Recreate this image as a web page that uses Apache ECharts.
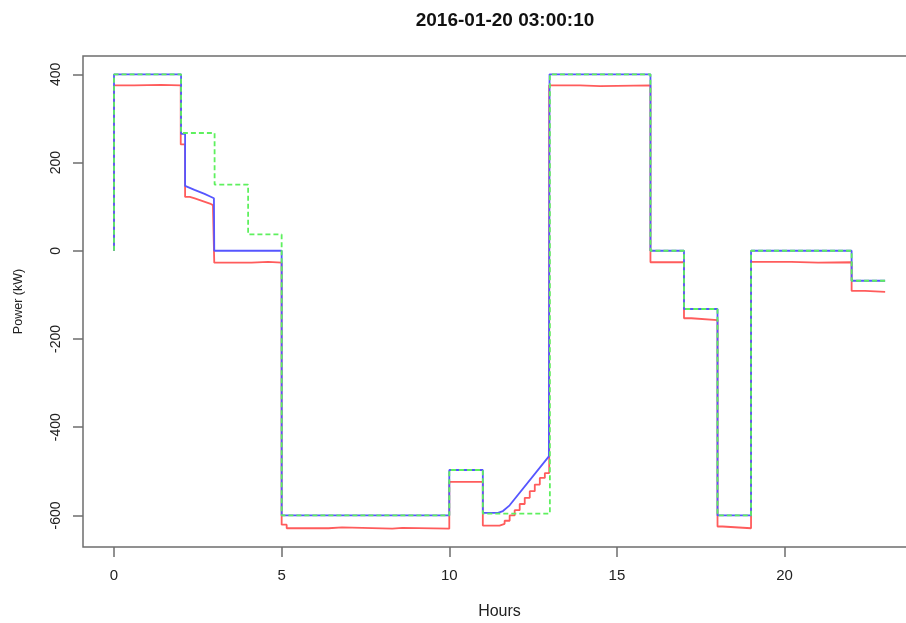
<!DOCTYPE html>
<html>
<head>
<meta charset="utf-8">
<script src="https://cdn.jsdelivr.net/npm/echarts@6/dist/echarts.min.js"></script>
<style>
  html, body { margin: 0; padding: 0; background: #fff; }
  #chart { width: 906px; height: 623px; }
</style>
</head>
<body>
<div id="chart"></div>
<script>
// ---- Data (hours, kW) ----
const titleText = '2016-01-20 03:00:10';
const xTicks = [0, 5, 10, 15, 20];
const yTicks = [-600, -400, -200, 0, 200, 400];

// measured power (red)
const redSeries = [
  [0,0],[0,375],[0.6,375],[0.6,376],[1.4,376],[1.4,375],[1.99,375],[1.99,241],[2.12,241],[2.12,122],
  [2.26,122],[2.26,118.6],[2.41,118.6],[2.41,115],[2.56,115],[2.56,111],[2.71,111],[2.71,107],
  [2.86,107],[2.86,103.5],[2.95,103.5],[2.95,100],[2.99,100],[2.99,-27],[4.1,-27],[4.1,-25],
  [4.6,-25],[4.6,-27],[5,-27],[5,-621],[5.15,-621],[5.15,-629],[6.4,-629],[6.4,-627],[6.8,-627],
  [6.8,-630],[8.3,-630],[8.3,-628],[8.6,-628],[8.6,-630],[10,-630],[10,-524],[11,-524],[11,-623],
  [11.5,-623],[11.5,-619],[11.65,-619],[11.65,-612],[11.8,-612],[11.8,-600],[11.95,-600],[11.95,-588],
  [12.1,-588],[12.1,-574],[12.25,-574],[12.25,-560],[12.4,-560],[12.4,-545],[12.55,-545],[12.55,-530],
  [12.7,-530],[12.7,-515],[12.85,-515],[12.85,-504],[12.98,-504],[12.98,375],[13.9,375],[13.9,373],
  [14.5,373],[14.5,375],[16,375],[16,-26],[17,-26],[17,-153],[17.22,-153],[17.22,-157],[18,-157],
  [18,-625],[18.15,-625],[18.15,-629],[19,-629],[19,-25],[20.2,-25],[20.2,-27],[21,-27],[21,-26],
  [22,-26],[22,-91],[22.4,-91],[22.4,-93],[23,-93]
];

// actual power (blue)
const blueSeries = [
  [0,0],[0,400],[2,400],[2,265],[2.12,265],[2.12,147],[2.4,138],[2.7,129],[2.9,122],[2.98,119],
  [2.99,0],[5,0],[5,-600],[10,-600],[10,-497],[11,-497],[11,-594],[11.45,-594],[11.6,-590],
  [11.8,-577],[12.97,-466],[12.99,400],[16,400],[16,0],[17,0],[17,-132],[18,-132],[18,-600],
  [19,-600],[19,0],[22,0],[22,-68],[23,-68]
];

// setpoint (green, dashed)
const greenSeries = [
  [0,0],[0,400],[2,400],[2,267],[3,267],[3,150],[4,150],[4,37],[5,37],[5,-600],[10,-600],
  [10,-497],[11,-497],[11,-596],[13,-596],[13,400],[16,400],[16,0],[17,0],[17,-132],[18,-132],
  [18,-600],[19,-600],[19,0],[22,0],[22,-68],[23,-68]
];

const FONT = 'Liberation Sans, Arial, Helvetica, sans-serif';
const chart = echarts.init(document.getElementById('chart'), null, { renderer: 'canvas' });

chart.setOption({
  animation: false,
  backgroundColor: '#ffffff',
  title: {
    text: titleText,
    left: 500,
    textAlign: 'center',
    top: 6,
    textStyle: { fontFamily: FONT, fontSize: 19, fontWeight: 'bold', color: '#111' }
  },
  grid: {
    left: 83, top: 56, right: -10, bottom: 76,
    show: true, borderColor: '#6e6e6e', borderWidth: 1.5,
    containLabel: false, outerBoundsMode: 'none'
  },
  xAxis: {
    type: 'value',
    min: -0.925, max: 23.92,
    name: 'Hours',
    nameLocation: 'middle',
    nameGap: 57,
    nameTextStyle: { fontFamily: FONT, fontSize: 16, color: '#222' },
    axisLine: { show: false, onZero: false },
    splitLine: { show: false },
    axisTick: { show: true, inside: false, length: 10, customValues: xTicks, lineStyle: { color: '#6e6e6e', width: 1.5 } },
    axisLabel: { customValues: xTicks, margin: 21, fontFamily: FONT, fontSize: 15, color: '#222' }
  },
  yAxis: {
    type: 'value',
    min: -671.5, max: 441.5,
    name: 'Power (kW)',
    nameLocation: 'middle',
    nameRotate: 90,
    nameGap: 58,
    nameTextStyle: { fontFamily: FONT, fontSize: 12.5, color: '#222' },
    axisLine: { show: false, onZero: false },
    splitLine: { show: false },
    axisTick: { show: true, inside: false, length: 10, customValues: yTicks, lineStyle: { color: '#6e6e6e', width: 1.5 } },
    axisLabel: { customValues: yTicks, rotate: 90, margin: 20, fontFamily: FONT, fontSize: 14, color: '#222' }
  },
  series: [
    { type: 'line', name: 'measured', data: redSeries, showSymbol: false, symbol: 'none',
      lineStyle: { color: '#ff5c5c', width: 1.8 }, z: 2 },
    { type: 'line', name: 'actual', data: blueSeries, showSymbol: false, symbol: 'none',
      lineStyle: { color: '#5656ff', width: 1.8 }, z: 3 },
    { type: 'line', name: 'setpoint', data: greenSeries, showSymbol: false, symbol: 'none',
      lineStyle: { color: '#5ef05e', width: 1.8, type: [5, 3] }, z: 4 }
  ]
});
</script>
</body>
</html>
